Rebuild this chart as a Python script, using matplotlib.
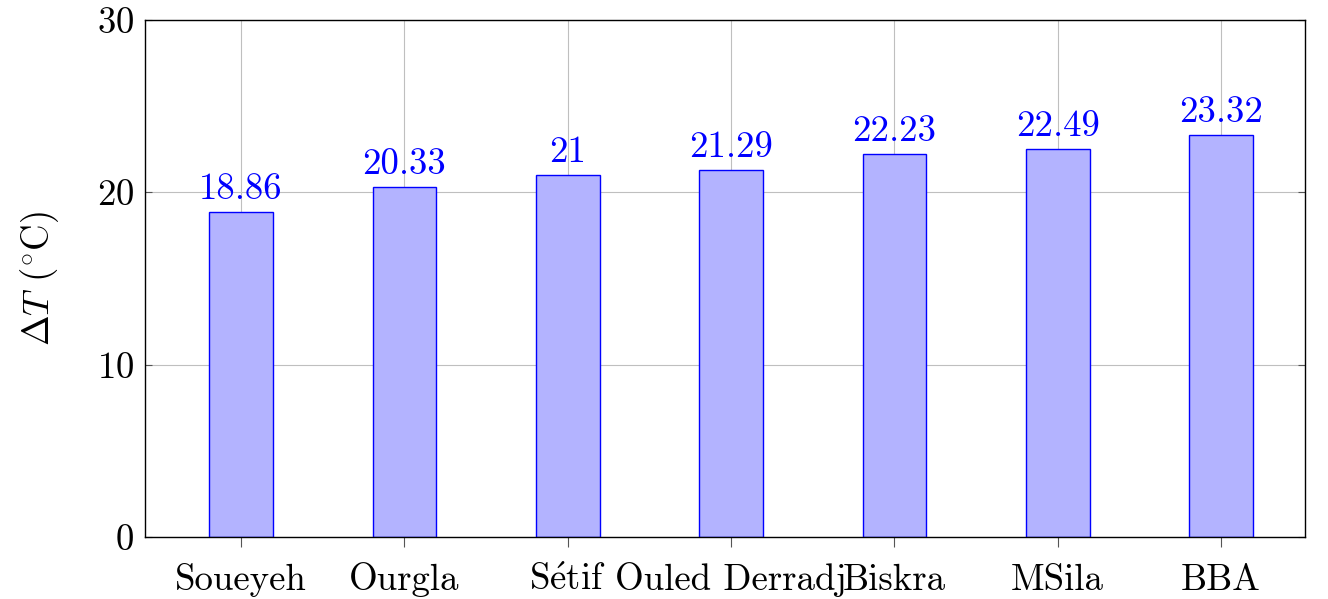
import matplotlib
matplotlib.use('Agg')
import matplotlib.pyplot as plt
import numpy as np

cities = ['Soueyeh', 'Ourgla', r'S$\mathrm{\acute{e}}$tif', 'Ouled Derradj', 'Biskra', 'MSila', 'BBA']
delta_t = [18.86, 20.33, 21, 21.29, 22.23, 22.49, 23.32]
labels = ['18.86', '20.33', '21', '21.29', '22.23', '22.49', '23.32']

plt.rcParams['font.family'] = ['cmr10', 'DejaVu Serif']
plt.rcParams['mathtext.fontset'] = 'cm'
plt.rcParams['axes.formatter.use_mathtext'] = True

fs = 26.5
fig = plt.figure(figsize=(13.28, 5.99), dpi=100)
ax = fig.add_axes([145/1328, 1-537/599, (1305-145)/1328, (537-20)/599])

x = np.arange(len(cities))
ax.bar(x, delta_t, width=0.39, color='#b3b3ff', edgecolor='blue', linewidth=1.0, zorder=2)
for xi, v, lab in zip(x, delta_t, labels):
    ax.text(xi, v + 0.35, lab, ha='center', va='bottom', color='blue', fontsize=fs)

ax.set_xlim(-0.588, 6.514)
ax.set_ylim(0, 30)
ax.set_yticks([0, 10, 20, 30])
ax.set_xticks(x)
ax.set_xticklabels(cities, va='baseline')
ax.grid(True, color='#bfbfbf', linewidth=0.8, zorder=0)
ax.set_axisbelow(True)
ax.tick_params(axis='both', labelsize=fs, color='#555555')
ax.tick_params(axis='y', direction='in', length=5, right=True, pad=8)
ax.tick_params(axis='x', direction='out', length=7, pad=31)
for s in ax.spines.values():
    s.set_linewidth(1.0)
ax.set_ylabel(r'$\Delta T$ (${}^{\circ}$C)', fontsize=fs, labelpad=26)

fig.savefig('out.png', dpi=100)
